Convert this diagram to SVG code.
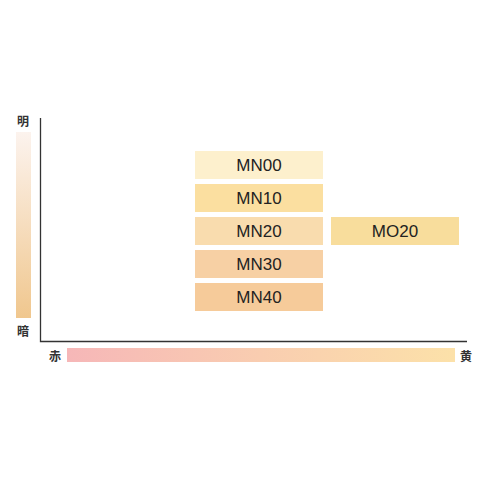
<svg xmlns="http://www.w3.org/2000/svg" width="480" height="480" viewBox="0 0 480 480">
<defs>
<linearGradient id="gv" x1="0" y1="0" x2="0" y2="1">
<stop offset="0" stop-color="#fcf3ee"/>
<stop offset="1" stop-color="#f0c78e"/>
</linearGradient>
<linearGradient id="gh" x1="0" y1="0" x2="1" y2="0">
<stop offset="0" stop-color="#f6b7b8"/>
<stop offset="0.5" stop-color="#f9cdb0"/>
<stop offset="1" stop-color="#fce1a9"/>
</linearGradient>
<style>
.lbl{font-family:"Liberation Sans",Arial,sans-serif;font-size:17px;fill:#222;text-anchor:middle;dominant-baseline:central}
.ax{font-family:"Noto Sans CJK JP",sans-serif;font-size:12px;font-weight:bold;fill:#333;text-anchor:middle;dominant-baseline:central}
</style>
</defs>
<rect width="480" height="480" fill="#fff"/>
<g id="connectors">
<path d="M40.5 118 V341.5 H467" fill="none" stroke="#333" stroke-width="1.3"/>
</g>
<g id="axis-v">
<rect x="16" y="132" width="15" height="186" fill="url(#gv)"/>
<text class="ax" x="23" y="120">明</text>
<text class="ax" x="23" y="330">暗</text>
</g>
<g id="axis-h">
<rect x="67" y="348" width="388" height="14" fill="url(#gh)"/>
<text class="ax" x="55" y="355">赤</text>
<text class="ax" x="466" y="355">黄</text>
</g>
<g id="MN00"><rect x="195" y="151" width="128" height="28" fill="#fdf0cd"/><text class="lbl" x="259" y="165">MN00</text></g>
<g id="MN10"><rect x="195" y="184" width="128" height="28" fill="#fbdfa0"/><text class="lbl" x="259" y="198">MN10</text></g>
<g id="MN20"><rect x="195" y="217" width="128" height="28" fill="#f9dcae"/><text class="lbl" x="259" y="231">MN20</text></g>
<g id="MN30"><rect x="195" y="250" width="128" height="28" fill="#f7d0a4"/><text class="lbl" x="259" y="264">MN30</text></g>
<g id="MN40"><rect x="195" y="283" width="128" height="28" fill="#f6cb9a"/><text class="lbl" x="259" y="297">MN40</text></g>
<g id="MO20"><rect x="331" y="217" width="128" height="28" fill="#f8dd9c"/><text class="lbl" x="395" y="231">MO20</text></g>
</svg>
